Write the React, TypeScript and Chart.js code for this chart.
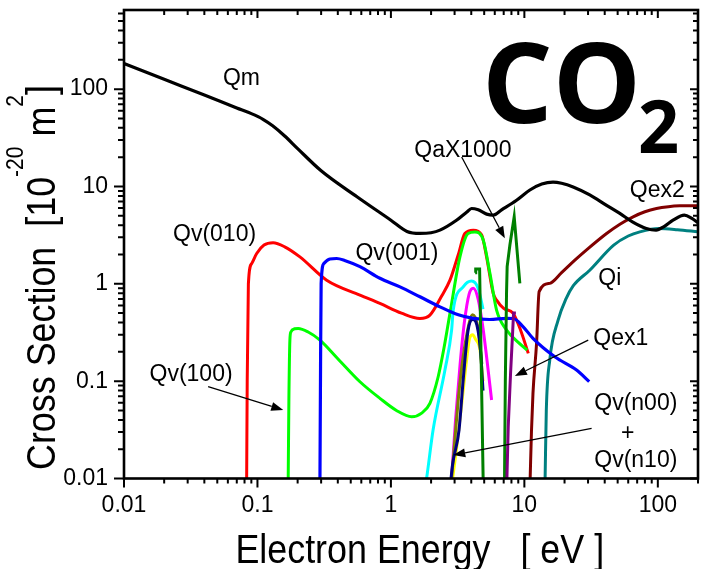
import React, { useEffect, useRef } from 'react';
import { Chart, registerables } from 'chart.js';

Chart.register(...registerables);

type Pt = [number, number];

// ---------- axis ranges & tick labels ----------
const X_RANGE: Pt = [0.01, 200];
const Y_RANGE: Pt = [0.01, 650];
const X_TICK_LABELS = ['0.01', '0.1', '1', '10', '100'];
const Y_TICK_LABELS = ['0.01', '0.1', '1', '10', '100'];

// ---------- series (energy eV, cross section 1e-20 m2) ----------
const QM: Pt[] = [
  [0.01, 183], [0.02, 126], [0.04, 87], [0.07, 64], [0.09, 56], [0.11, 49], [0.13, 42], [0.16, 33],
  [0.2, 24.5], [0.3, 14.5], [0.56, 7.8], [1.0, 4.5], [1.32, 3.45], [1.65, 3.29], [2.0, 3.35], [2.33, 3.56],
  [3.1, 4.5], [3.71, 5.48], [4.02, 5.94], [4.51, 5.75], [5.21, 5.2], [5.84, 5.07], [6.75, 5.75], [8.74, 7.23],
  [11, 9.2], [13.5, 10.6], [16.4, 11.1], [19, 10.8], [23.2, 9.9], [30.9, 8.2], [41.3, 6.4],
  [51.9, 5.28], [65, 4.3], [82, 3.7], [97, 3.56], [112, 3.9], [130, 4.5], [158, 5.07], [180, 4.7], [200, 4.25],
];
const QV010: Pt[] = [
  [0.083, 0.01], [0.0838, 0.1], [0.0855, 1.0], [0.0906, 1.62], [0.0987, 2.05], [0.112, 2.5], [0.131, 2.64],
  [0.16, 2.4], [0.208, 1.89], [0.33, 1.09], [0.586, 0.766], [0.827, 0.629], [1.2, 0.5], [1.65, 0.441],
  [1.96, 0.477], [2.4, 0.75], [2.77, 1.09], [3.2, 2.0], [3.58, 3.29], [4.14, 3.56], [4.78, 3.19],
  [5.21, 1.89], [5.84, 0.8], [6.19, 0.68], [7.0, 0.56], [8.24, 0.497], [9.4, 0.33], [10.7, 0.193],
];
const QV100: Pt[] = [
  [0.17, 0.01], [0.172, 0.064], [0.175, 0.264], [0.178, 0.32], [0.19, 0.345], [0.202, 0.348], [0.24, 0.32],
  [0.294, 0.264], [0.4, 0.17], [0.586, 0.0986], [0.827, 0.0666], [1.1, 0.05], [1.43, 0.0431], [1.7, 0.047],
  [1.96, 0.0592], [2.26, 0.111], [2.5, 0.22], [2.77, 0.497], [3.29, 1.89], [3.79, 3.29], [4.26, 3.4],
  [4.92, 2.81], [5.52, 1.28], [6.19, 0.537], [7.36, 0.335], [9.0, 0.25], [10.5, 0.209],
];
const QV001: Pt[] = [
  [0.294, 0.01], [0.297, 0.14], [0.3, 1.0], [0.315, 1.62], [0.349, 1.8], [0.392, 1.82], [0.45, 1.74],
  [0.586, 1.5], [0.827, 1.14], [1.17, 0.93], [1.65, 0.736], [2.33, 0.58], [3.2, 0.48], [4.14, 0.441],
  [5.5, 0.43], [7.36, 0.441], [8.24, 0.44], [9.8, 0.362], [11.6, 0.275], [16.9, 0.178], [24.6, 0.13], [30.6, 0.099],
];
const QV_CYAN: Pt[] = [
  [1.8, 0.008], [1.85, 0.01], [2.07, 0.0315], [2.54, 0.13], [2.85, 0.335], [2.93, 0.537], [3.48, 0.932],
  [4.02, 1.07], [4.51, 0.897], [4.9, 0.55],
];
const QV_MAGENTA: Pt[] = [
  [2.85, 0.01], [3.05, 0.04], [3.3, 0.15], [3.55, 0.4], [3.85, 0.78], [4.14, 0.9], [4.5, 0.7],
  [4.9, 0.35], [5.21, 0.178], [5.68, 0.064],
];
const QV_YELLOW: Pt[] = [
  [2.9, 0.01], [3.1, 0.02], [3.4, 0.06], [3.7, 0.17], [3.9, 0.28], [4.1, 0.3], [4.3, 0.27], [4.65, 0.209], [4.9, 0.1],
];
const QV_OLIVE: Pt[] = [
  [2.85, 0.01], [3.3, 0.1], [3.7, 0.3], [4.1, 0.48], [4.5, 0.35], [4.8, 0.15],
];
const QV_NAVY: Pt[] = [
  [2.82, 0.01], [2.9, 0.014], [3.24, 0.0315], [3.48, 0.103], [3.79, 0.335], [4.1, 0.43], [4.4, 0.38],
  [4.7, 0.2], [4.9, 0.08],
];
const QA_X1000: (Pt | [number, null])[] = [
  [4.28, 1.3], [4.32, 1.42], [4.62, 1.42], [4.91, 0.01], [6.0, null],
  [7.1, 0.01], [7.2, 0.1], [7.35, 0.8], [7.43, 1.5], [7.79, 2.5], [8.39, 4.88], [9.25, 1.01],
];
const QEX1: Pt[] = [
  [7.4, 0.01], [7.57, 0.034], [7.88, 0.12], [8.16, 0.31], [8.3, 0.5], [8.64, 0.5],
];
const QEX2: Pt[] = [
  [11.05, 0.01], [11.3, 0.03], [11.6, 0.075], [12.34, 0.244], [12.9, 0.83], [15.5, 1.01], [19, 1.3],
  [23.9, 1.75], [30, 2.3], [41.3, 3.29], [52, 4.1], [65.3, 4.88], [80, 5.5], [97.7, 5.94], [120, 6.2],
  [146, 6.32], [200, 6.35],
];
const QI: Pt[] = [
  [14.3, 0.01], [14.6, 0.05], [15.5, 0.165], [17.9, 0.424], [20.5, 0.7], [23.2, 0.95], [30.9, 1.38],
  [46.7, 2.5], [60, 3.1], [73.3, 3.42], [102, 3.7], [140, 3.6], [200, 3.42],
];

// top-most first
const SERIES = [
  { label: 'Qm', data: QM, color: '#000000', width: 3.2, smooth: true },
  { label: 'Qex1', data: QEX1, color: '#800080', width: 3, smooth: false },
  { label: 'QaX1000', data: QA_X1000, color: '#008000', width: 3, smooth: false },
  { label: 'Qv(001)', data: QV001, color: '#0000FF', width: 3.2, smooth: true },
  { label: 'Qv navy', data: QV_NAVY, color: '#000080', width: 3, smooth: true },
  { label: 'Qv olive', data: QV_OLIVE, color: '#808000', width: 3, smooth: true },
  { label: 'Qv yellow', data: QV_YELLOW, color: '#FFFF00', width: 3, smooth: true },
  { label: 'Qv magenta', data: QV_MAGENTA, color: '#FF00FF', width: 3, smooth: true },
  { label: 'Qv cyan', data: QV_CYAN, color: '#00FFFF', width: 3, smooth: true },
  { label: 'Qv(100)', data: QV100, color: '#00FF00', width: 3, smooth: true },
  { label: 'Qv(010)', data: QV010, color: '#FF0000', width: 3, smooth: true },
  { label: 'Qi', data: QI, color: '#008080', width: 3, smooth: true },
  { label: 'Qex2', data: QEX2, color: '#800000', width: 3, smooth: true },
];

// text labels anchored in data coordinates (centre, baseline)
const LABEL_TEXTS = ['Qm', 'Qv(010)', 'Qv(100)', 'Qv(001)', 'QaX1000', 'Qex2', 'Qi', 'Qex1', 'Qv(n00)', '+', 'Qv(n10)'];
const LABEL_POS: Pt[] = [
  [0.0759, 110], [0.0477, 2.74], [0.0318, 0.1], [1.11, 1.75], [3.46, 20], [99, 7.76], [43.7, 0.97],
  [52.8, 0.235], [68.4, 0.0505], [59.6, 0.0248], [68.4, 0.0131],
];
// arrows: from -> to (data coordinates)
const ARROWS: [Pt, Pt][] = [
  [[0.0427, 0.0877], [0.156, 0.0505]],
  [[3.39, 20.1], [7.14, 2.93]],
  [[30.1, 0.264], [8.49, 0.113]],
  [[31.9, 0.0328], [2.93, 0.0174]],
];

const SANS = '"Liberation Sans", Arial, Helvetica, sans-serif';
const BOLD = '"Open Sans", "Noto Sans", "Liberation Sans", sans-serif';

function logTicks(range: Pt): number[] {
  const out: number[] = [];
  const e0 = Math.floor(Math.log10(range[0]));
  const e1 = Math.ceil(Math.log10(range[1]));
  for (let e = e0; e <= e1; e++) {
    for (let m = 1; m <= 9; m++) {
      const v = parseFloat((m * Math.pow(10, e)).toPrecision(12));
      if (v >= range[0] * (1 - 1e-9) && v <= range[1] * (1 + 1e-9)) out.push(v);
    }
  }
  return out;
}
function isDecade(v: number) {
  const l = Math.log10(v);
  return Math.abs(l - Math.round(l)) < 1e-6;
}
function decadeLabel(labels: string[], v: number) {
  if (!isDecade(v)) return '';
  return labels[Math.round(Math.log10(v)) + 2] ?? '';
}

function fitText(ctx: CanvasRenderingContext2D, text: string, font: string, left: number, baseline: number, inkW: number) {
  ctx.save();
  ctx.font = font;
  ctx.textAlign = 'left';
  ctx.textBaseline = 'alphabetic';
  const m = ctx.measureText(text);
  const w = m.actualBoundingBoxLeft + m.actualBoundingBoxRight;
  ctx.translate(left, baseline);
  ctx.scale(inkW / w, 1);
  ctx.fillText(text, m.actualBoundingBoxLeft, 0);
  ctx.restore();
}

const decorPlugin = {
  id: 'decor',
  afterDatasetsDraw(chart: any) {
    const { ctx, chartArea: a, scales } = chart;
    const xs = scales.x, ys = scales.y;
    ctx.save();
    ctx.strokeStyle = '#000';
    ctx.fillStyle = '#000';

    // tick marks
    ctx.lineWidth = 2;
    ctx.beginPath();
    for (const v of logTicks(X_RANGE)) {
      const p = xs.getPixelForValue(v);
      const maj = isDecade(v);
      ctx.moveTo(p, a.bottom); ctx.lineTo(p, a.bottom + (maj ? 9 : 5));
      ctx.moveTo(p, a.top); ctx.lineTo(p, a.top + (maj ? 8 : 5));
    }
    for (const v of logTicks(Y_RANGE)) {
      const p = ys.getPixelForValue(v);
      const maj = isDecade(v);
      ctx.moveTo(a.left, p); ctx.lineTo(a.left - (maj ? 10 : 6), p);
      ctx.moveTo(a.right, p); ctx.lineTo(a.right - (maj ? 8 : 5), p);
    }
    ctx.stroke();

    // frame
    ctx.lineWidth = 2.6;
    ctx.strokeRect(a.left, a.top, a.right - a.left, a.bottom - a.top);

    // curve labels
    ctx.font = `23px ${SANS}`;
    ctx.textAlign = 'center';
    ctx.textBaseline = 'alphabetic';
    LABEL_TEXTS.forEach((t, i) => {
      const [ex, qy] = LABEL_POS[i];
      ctx.fillText(t, xs.getPixelForValue(ex), ys.getPixelForValue(qy));
    });

    // arrows
    ctx.lineWidth = 1.3;
    for (const [f, t] of ARROWS) {
      const x0 = xs.getPixelForValue(f[0]), y0 = ys.getPixelForValue(f[1]);
      const x1 = xs.getPixelForValue(t[0]), y1 = ys.getPixelForValue(t[1]);
      const ang = Math.atan2(y1 - y0, x1 - x0);
      const L = 12, W = 4.5;
      const bx = x1 - L * Math.cos(ang), by = y1 - L * Math.sin(ang);
      ctx.beginPath();
      ctx.moveTo(x0, y0); ctx.lineTo(bx, by); ctx.stroke();
      ctx.beginPath();
      ctx.moveTo(x1, y1);
      ctx.lineTo(bx + W * Math.sin(ang), by - W * Math.cos(ang));
      ctx.lineTo(bx - W * Math.sin(ang), by + W * Math.cos(ang));
      ctx.closePath();
      ctx.fill();
    }

    // CO2 title
    fitText(ctx, 'CO', `bold 112px ${BOLD}`, 488, 123, 147);
    fitText(ctx, '2', `bold 74px ${BOLD}`, 640, 153, 37);

    // x axis title
    fitText(ctx, 'Electron Energy   [ eV ]', `41px ${SANS}`, 238, 563, 364);

    // y axis title (rotated, with superscripts)
    const parts = [
      { t: 'Cross Section  [10', f: 41, dy: 0 },
      { t: '-20', f: 24, dy: -32 },
      { t: ' m', f: 41, dy: 0 },
      { t: '2', f: 24, dy: -32 },
      { t: ']', f: 41, dy: 0 },
    ];
    ctx.save();
    ctx.translate(55, 470);
    ctx.rotate(-Math.PI / 2);
    ctx.scale(0.875, 1);
    ctx.textAlign = 'left';
    let cx = 0;
    parts.forEach((p) => {
      ctx.font = `${p.f}px ${SANS}`;
      ctx.fillText(p.t, cx, p.dy);
      cx += ctx.measureText(p.t).width;
    });
    ctx.restore();

    ctx.restore();
  },
};

export default function App() {
  const ref = useRef<HTMLCanvasElement | null>(null);
  useEffect(() => {
    if (!ref.current) return;
    const tickFont = { family: SANS, size: 23 };
    const chart = new Chart(ref.current, {
      type: 'line',
      data: {
        datasets: SERIES.map((s, i) => ({
          label: s.label,
          data: s.data.map(([x, y]) => ({ x, y })),
          borderColor: s.color,
          backgroundColor: s.color,
          borderWidth: s.width,
          pointRadius: 0,
          fill: false,
          spanGaps: false,
          tension: 0,
          cubicInterpolationMode: s.smooth ? 'monotone' : 'default',
          order: i,
        })),
      },
      options: {
        responsive: false,
        animation: false,
        events: [],
        layout: { padding: { left: 0, right: 4, top: 10, bottom: 0 } },
        plugins: { legend: { display: false }, tooltip: { enabled: false }, title: { display: false } },
        scales: {
          x: {
            type: 'logarithmic',
            min: X_RANGE[0],
            max: X_RANGE[1],
            grid: { display: false, drawTicks: false, tickLength: 0 },
            border: { display: false },
            ticks: {
              autoSkip: false, maxRotation: 0, minRotation: 0, padding: 13, color: '#000', font: tickFont,
              callback: (v: any) => decadeLabel(X_TICK_LABELS, Number(v)),
            },
            afterBuildTicks: (s: any) => { s.ticks = logTicks(X_RANGE).map((v) => ({ value: v })); },
            afterFit: (s: any) => { s.height = 90.5; s.paddingLeft = 0; s.paddingRight = 0; },
          },
          y: {
            type: 'logarithmic',
            min: Y_RANGE[0],
            max: Y_RANGE[1],
            grid: { display: false, drawTicks: false, tickLength: 0 },
            border: { display: false },
            ticks: {
              autoSkip: false, padding: 16, color: '#000', font: tickFont,
              callback: (v: any) => decadeLabel(Y_TICK_LABELS, Number(v)),
            },
            afterBuildTicks: (s: any) => { s.ticks = logTicks(Y_RANGE).map((v) => ({ value: v })); },
            afterFit: (s: any) => { s.width = 124; s.paddingTop = 0; s.paddingBottom = 0; },
          },
        },
      },
      plugins: [decorPlugin],
    } as any);
    return () => chart.destroy();
  }, []);
  return (
    <div style={{ position: 'fixed', left: 0, top: 0, width: 702, height: 569, background: '#fff' }}>
      <canvas ref={ref} width={702} height={569} style={{ display: 'block' }} />
    </div>
  );
}
